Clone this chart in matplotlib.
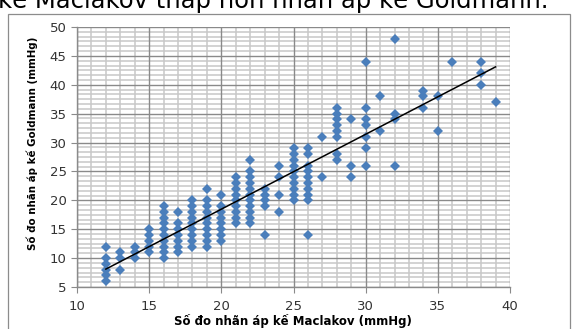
import matplotlib
matplotlib.use("Agg")
import matplotlib.pyplot as plt
from matplotlib.ticker import MultipleLocator, AutoMinorLocator
from matplotlib.patches import Rectangle

# so do nhan ap: Maclakov (x) / Goldmann (y), doc tung cot diem tu hinh
maclakov = [12]*6 + [13]*3 + [14]*3 + [15]*5 + [16]*10 + [17]*7 + [18]*9 \
    + [19]*10 + [20]*8 + [21]*9 + [22]*11 + [23]*5 + [24]*4 + [25]*10 \
    + [26]*10 + [27]*2 + [28]*8 + [29]*3 + [30]*7 + [31]*2 + [32]*4 \
    + [34]*3 + [35]*2 + [36] + [38]*3 + [39]
goldmann = [12, 10, 9, 8, 7, 6,
            11, 10, 8,
            12, 11, 10,
            15, 14, 13, 12, 11,
            19, 18, 17, 16, 15, 14, 13, 12, 11, 10,
            18, 16, 15, 14, 13, 12, 11,
            20, 19, 18, 17, 16, 15, 14, 13, 12,
            22, 20, 19, 18, 17, 16, 15, 14, 13, 12,
            21, 19, 18, 17, 16, 15, 14, 13,
            24, 23, 22, 21, 20, 19, 18, 17, 16,
            27, 25, 24, 23, 22, 21, 20, 19, 18, 17, 16,
            22, 21, 20, 19, 14,
            26, 24, 21, 18,
            29, 28, 27, 26, 25, 24, 23, 22, 21, 20,
            29, 28, 26, 25, 24, 23, 22, 21, 20, 14,
            31, 24,
            36, 35, 34, 33, 32, 31, 28, 27,
            34, 26, 24,
            44, 36, 34, 33, 31, 29, 26,
            38, 32,
            48, 35, 34, 26,
            39, 38, 36,
            38, 32,
            44,
            44, 42, 40,
            37]

# duong xu huong (doc tu hinh)
trend_x = [12, 39]
trend_y = [8.1, 43.1]

title_text = "kế Maclakov thấp hơn nhãn áp kế Goldmann."
xlabel_text = "Số đo nhãn áp kế Maclakov (mmHg)"
ylabel_text = "Số đo nhãn áp kế Goldmann (mmHg)"

W, H = 578, 329
fig = plt.figure(figsize=(W/100, H/100), dpi=100)
ax = fig.add_axes([77/W, 1 - 287/H, (510-77)/W, (287-27)/H])

# khung ngoai cua bieu do
fig.patches.append(Rectangle((8/W, -0.1), (570-8)/W, 1.1 - 14/H,
                             transform=fig.transFigure, fill=False,
                             edgecolor="#8c8c8c", linewidth=0.9))

fig.text(-0.003, 1 - 8/H, title_text, fontsize=17.5, va="baseline",
         ha="left", color="black")

ax.set_xlim(10, 40)
ax.set_ylim(5, 50)
ax.xaxis.set_major_locator(MultipleLocator(5))
ax.yaxis.set_major_locator(MultipleLocator(5))
ax.xaxis.set_minor_locator(AutoMinorLocator(5))
ax.yaxis.set_minor_locator(AutoMinorLocator(6))

for s in ["top", "right"]:
    ax.spines[s].set_visible(False)
for s in ["left", "bottom"]:
    ax.spines[s].set_color("#8a8a8a")
    ax.spines[s].set_linewidth(1.0)

ax.tick_params(which="major", length=4, color="#8a8a8a", labelsize=9.5,
               labelcolor="#333333")
ax.tick_params(which="minor", length=0)
ax.tick_params(axis="x", pad=5)

# luoi ve tay (phu + chinh)
for v in ax.xaxis.get_minorticklocs():
    ax.axvline(v, color="#c8c8c8", linewidth=1.1, zorder=0.5)
for v in ax.yaxis.get_minorticklocs():
    ax.axhline(v, color="#c8c8c8", linewidth=1.1, zorder=0.5)
for v in ax.xaxis.get_majorticklocs():
    ax.axvline(v, color="#8a8a8a", linewidth=1.0, zorder=0.6)
for v in ax.yaxis.get_majorticklocs():
    ax.axhline(v, color="#8a8a8a", linewidth=1.0, zorder=0.6)

ax.plot(maclakov, goldmann, linestyle="none", marker="D", markersize=5.3,
        markeredgewidth=0, color="#4a7ebb", zorder=3)
ax.plot(trend_x, trend_y, color="black", linewidth=1.1, zorder=4)

fig.text(293/W, 1 - 321/H, xlabel_text, fontsize=8.5, fontweight="bold",
         ha="center", va="center")
fig.text(32/W, 1 - 143/H, ylabel_text, fontsize=7.4, fontweight="bold",
         ha="center", va="center", rotation=90)

fig.savefig("out.png", dpi=100)
